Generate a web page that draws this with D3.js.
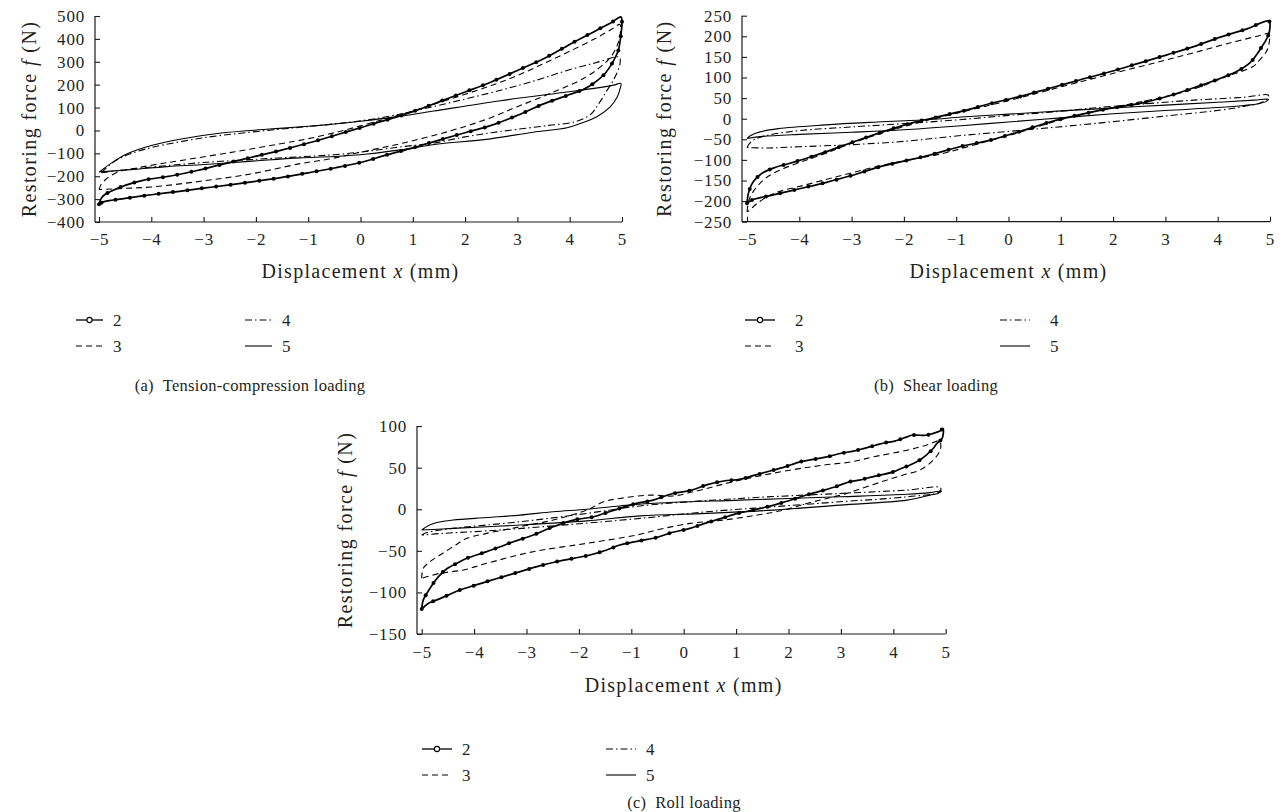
<!DOCTYPE html>
<html><head><meta charset="utf-8">
<script src="https://cdn.jsdelivr.net/npm/d3@7"></script>
<style>
body{margin:0;background:#fff}
svg{display:block}
text{font-family:"Liberation Serif","Times New Roman",serif;fill:#231f20}
</style>
</head><body>
<svg id="chart" width="1285" height="812"></svg>
<script>
// ---------------- DATA ----------------
const xTicks = [-5,-4,-3,-2,-1,0,1,2,3,4,5];
const yTicksA = [500,400,300,200,100,0,-100,-200,-300,-400];
const yTicksB = [250,200,150,100,50,0,-50,-100,-150,-200,-250];
const yTicksC = [100,50,0,-50,-100,-150];
const seriesNames = ["2","3","4","5"];
const captions = ["(a)\u00a0\u00a0Tension-compression loading","(b)\u00a0\u00a0Shear loading","(c)\u00a0\u00a0Roll loading"];
const xTitleParts = ["Displacement ","x"," (mm)"];
const yTitleParts = ["Restoring force ","f"," (N)"];

// Each loop: [displacement x (mm), restoring force f (N)], loading branch then unloading branch
const a2 = [[-5,-322],[-4.96,-298],[-4.9,-282],[-4.78,-267],[-4.5,-240],[-4.14,-217],[-3.63,-199],[-3.12,-175],[-2.65,-148],[-2.1,-118],[-1.53,-87],[-1,-55],[-0.5,-22],[0,12],[0.5,46],[1,82],[1.5,125],[2,168],[2.5,212],[3,262],[3.5,313],[4,376],[4.5,436],[4.8,472],[4.98,496],
 [5,470],[4.98,420],[4.93,350],[4.81,293],[4.68,250],[4.46,206],[4.24,177],[4,157],[3.5,116],[3,66],[2.5,22],[2,-10],[1.5,-42],[1,-76],[0.5,-107],[0,-140],[-0.5,-164],[-1,-185],[-1.5,-205],[-2,-222],[-2.5,-238],[-3,-252],[-3.5,-267],[-4,-281],[-4.5,-297],[-4.9,-311],[-5,-322]];
const a3 = [[-5,-258],[-4.96,-236],[-4.85,-210],[-4.62,-180],[-4.3,-165],[-4,-152],[-3.4,-130],[-2.4,-93],[-1.5,-57],[-1,-36],[-0.5,-10],[0,20],[0.5,52],[1,85],[1.5,122],[2,158],[2.5,196],[3,240],[3.5,292],[4,346],[4.5,403],[4.8,442],[4.96,463],
 [4.97,430],[4.93,385],[4.8,325],[4.6,280],[4.27,228],[3.63,162],[3,104],[2.4,48],[1.7,-3],[0.8,-56],[0,-95],[-0.6,-125],[-1.15,-145],[-2.1,-190],[-3.06,-222],[-4,-247],[-4.6,-254],[-5,-258]];
const a4 = [[-4.95,-185],[-4.88,-168],[-4.7,-135],[-4.4,-102],[-4,-75],[-3,-32],[-2,-5],[-1,17],[0,42],[0.64,66],[1.5,110],[2.7,177],[3.4,222],[3.95,262],[4.5,296],[4.95,320],
 [4.96,290],[4.86,230],[4.7,170],[4.55,115],[4.4,70],[4.1,38],[3.6,22],[3,5],[2.5,-10],[2,-28],[1.4,-55],[0.76,-72],[0.1,-92],[-0.5,-106],[-1.15,-115],[-2,-126],[-3,-140],[-4,-160],[-4.5,-172],[-4.95,-185]];
const a5 = [[-5,-183],[-4.9,-165],[-4.78,-145],[-4.46,-102],[-4,-66],[-3.4,-36],[-2.7,-12],[-1.8,5],[-1,18],[-0.5,28],[0,40],[0.64,58],[1.4,85],[2.68,130],[3.95,168],[4.5,185],[4.84,198],[4.98,205],
 [4.96,180],[4.91,147],[4.78,104],[4.52,60],[4.2,30],[3.95,12],[3.3,-8],[2.36,-40],[1.53,-58],[0.76,-85],[0.13,-103],[-0.5,-114],[-1.15,-120],[-1.78,-129],[-2.42,-140],[-3.06,-150],[-3.69,-158],[-4.33,-170],[-4.97,-181]];

const b2 = [[-5,-205],[-4.98,-185],[-4.94,-168],[-4.88,-153],[-4.72,-133],[-4.5,-120],[-4.18,-108],[-3.86,-96],[-3.48,-80],[-3.09,-62],[-2.71,-45],[-2.26,-26],[-1.81,-9],[-1.43,2],[-1.1,12],[-0.77,22],[-0.4,35],[0.19,53],[0.79,74],[1.36,94],[1.94,114],[2.5,135],[3.03,155],[3.54,175],[4.05,198],[4.56,218],[4.98,237],
 [5,222],[4.96,200],[4.81,168],[4.62,136],[4.37,115],[3.99,95],[3.54,75],[3.03,54],[2.51,37],[1.94,25],[1.37,10],[0.79,-8],[0.19,-32],[-0.35,-52],[-0.93,-68],[-1.5,-88],[-2,-103],[-2.5,-118],[-3,-138],[-3.5,-155],[-4,-170],[-4.5,-185],[-4.88,-196],[-5,-205]];
const b3 = [[-5,-226],[-4.98,-208],[-4.94,-190],[-4.81,-165],[-4.62,-142],[-4.3,-121],[-3.86,-100],[-3.48,-83],[-3.09,-64],[-2.5,-38],[-2,-19],[-1.43,0],[-0.77,20],[0.19,50],[0.79,70],[1.36,89],[1.94,108],[2.5,126],[3.03,143],[3.54,160],[4.18,182],[4.81,202],[4.98,207],
 [4.99,190],[4.94,165],[4.8,142],[4.68,127],[4.18,103],[3.54,72],[2.9,51],[2.26,34],[1.62,17],[0.98,-3],[0.19,-34],[-0.5,-58],[-1.31,-86],[-2,-102],[-2.58,-118],[-3.2,-138],[-3.86,-160],[-4.5,-182],[-4.8,-205],[-4.95,-222],[-5,-226]];
const b4 = [[-5,-70],[-4.95,-60],[-4.85,-50],[-4.6,-40],[-4,-29],[-3,-20],[-2,-12],[-1,-3],[0,8],[1,18],[1.62,26],[2.5,35],[3.54,45],[4.5,52],[4.97,57],
 [4.95,48],[4.81,38],[4.5,30],[4.18,23],[2.9,5],[1.62,-12],[0.35,-27],[-1,-42],[-2,-55],[-3,-63],[-4,-68],[-4.6,-71],[-5,-70]];
const b5 = [[-5,-48],[-4.92,-40],[-4.75,-32],[-4.4,-24],[-3.5,-15],[-2.5,-8],[-1.5,-2],[-0.9,4],[0,11],[1,19],[2,26],[3,33],[4,40],[4.7,45],[4.97,47],
 [4.93,42],[4.8,37],[4.5,32],[4,27],[3,20],[2,12],[1,2],[0,-8],[-0.9,-17],[-2,-27],[-3,-33],[-4,-38],[-4.7,-43],[-5,-48]];

const c2 = [[-5,-120],[-4.97,-109],[-4.9,-101],[-4.8,-91],[-4.68,-81],[-4.55,-73],[-4.33,-65],[-4.14,-59],[-3.76,-51],[-3.5,-45],[-3.25,-39],[-2.87,-31],[-2.49,-21],[-2.1,-13],[-1.72,-9],[-1.47,-4],[-1.22,1],[-0.9,7],[-0.58,11],[-0.26,18],[0.15,23],[0.47,30],[0.76,34],[1.07,36],[1.36,41],[1.65,46],[1.93,51],[2.22,57],[2.48,60],[2.73,63],[2.98,67],[3.24,70],[3.43,73],[3.66,77],[3.84,80],[4.03,82],[4.26,87],[4.35,89],[4.5,89],[4.63,89],[4.75,91],[4.89,94],[4.95,97],
 [4.93,85],[4.83,79],[4.76,73],[4.63,65],[4.5,59],[4.31,53],[4.15,49],[4,45],[3.6,39],[3.35,35],[3.16,33],[2.94,28],[2.68,23],[2.39,18],[2.14,13],[1.88,8],[1.6,3],[1.32,-1],[1.03,-5],[0.72,-11],[0.4,-17],[0.12,-23],[-0.23,-28],[-0.52,-34],[-0.85,-38],[-1.22,-43],[-1.47,-49],[-1.79,-55],[-2.1,-59],[-2.49,-64],[-2.8,-69],[-3.12,-75],[-3.44,-81],[-3.76,-87],[-4.01,-92],[-4.27,-97],[-4.49,-103],[-4.71,-109],[-4.87,-113],[-5,-120]];
const c3 = [[-5,-83],[-4.97,-71],[-4.84,-63],[-4.65,-55],[-4.4,-45],[-4.14,-35],[-3.76,-29],[-3.12,-21],[-2.49,-13],[-1.85,-1],[-1.53,9],[-1.22,13],[-0.64,17],[-0.2,16],[0.18,21],[1.07,35],[2.03,47],[2.66,53],[3.2,57],[3.62,63],[4.26,71],[4.63,77],[4.88,82],
 [4.9,72],[4.76,59],[4.5,47],[4.18,41],[3.87,35],[3.49,27],[3.11,19],[2.73,13],[2.35,7],[1.91,-1],[1.4,-7],[0.76,-13],[0.12,-17],[-0.52,-25],[-0.9,-31],[-1.85,-41],[-2.87,-51],[-3.76,-65],[-4.2,-73],[-4.65,-77],[-5,-83]];
const c4 = [[-5,-31],[-4.9,-28],[-4.4,-23],[-3.12,-15],[-1.85,-5],[-0.83,4],[1.07,13],[2.98,19],[4.26,23],[4.9,26],
 [4.88,21],[4.26,15],[2.98,9],[1.71,3],[0.44,-3],[-0.83,-11],[-2.49,-20],[-3.76,-26],[-4.6,-29],[-5,-31]];
const c5 = [[-5,-25],[-4.85,-19],[-4.71,-16],[-4.4,-13],[-3.76,-10],[-3.12,-7],[-2.49,-3],[-1.85,0],[-1.22,4],[-0.64,7],[1.07,11],[2.98,15],[4.26,18],[4.7,20],[4.92,22],
 [4.85,19],[4.7,17],[4.26,11],[2.98,5],[1.71,-1],[0.44,-5],[-0.83,-8],[-1.85,-14],[-3.12,-19],[-4.4,-23],[-5,-25]];

// ---------------- LAYOUT / STYLE ----------------
const panels = [
  {loops:[a2,a3,a4,a5], yTicks:yTicksA, caption:captions[0],
   x0:99, x1:622, yb:222, yt:16, axisX:95, yTitleX:36, xTitleY:278, tickLabY:23,
   leg:{x:76, col2:245, y:320, dy:26, len:27, gap:10}, cap:{x:250, y:391}},
  {loops:[b2,b3,b4,b5], yTicks:yTicksB, caption:captions[1],
   x0:747, x1:1270, yb:221.7, yt:15.7, axisX:742, yTitleX:671, xTitleY:278, tickLabY:23,
   leg:{x:745, col2:1000, y:320, dy:26, len:30, gap:20}, cap:{x:936, y:391}},
  {loops:[c2,c3,c4,c5], yTicks:yTicksC, caption:captions[2],
   x0:421.7, x1:945.7, yb:634, yt:426.1, axisX:417, yTitleX:352, xTitleY:692, tickLabY:24,
   leg:{x:422, col2:606, y:749, dy:26, len:30, gap:10}, cap:{x:684, y:808}}
];
const styles = [
  {w:1.7, dash:null, dots:true},
  {w:1.1, dash:"6,4", dots:false},
  {w:1.1, dash:"7,3,1.5,3", dots:false},
  {w:1.1, dash:null, dots:false}
];

const svg = d3.select("#chart");
const INK = "#1a1a1a";

panels.forEach(p => {
  const yDom = d3.extent(p.yTicks);
  const x = d3.scaleLinear().domain([xTicks[0], xTicks[xTicks.length-1]]).range([p.x0, p.x1]);
  const y = d3.scaleLinear().domain(yDom).range([p.yb, p.yt]);
  const g = svg.append("g");

  g.append("line").attr("x1",p.axisX).attr("x2",x.range()[1]).attr("y1",y.range()[0]).attr("y2",y.range()[0])
    .attr("stroke",INK).attr("stroke-width",1.2);
  g.append("line").attr("x1",p.axisX).attr("x2",p.axisX).attr("y1",y.range()[0]).attr("y2",y.range()[1])
    .attr("stroke",INK).attr("stroke-width",1.2);

  const xAxis = d3.axisBottom(x).tickValues(xTicks).tickSizeInner(-5).tickSizeOuter(0).tickPadding(p.tickLabY-12);
  const gx = g.append("g").attr("transform",`translate(0,${p.yb})`).call(xAxis);
  const yAxis = d3.axisLeft(y).tickValues(p.yTicks).tickSizeInner(-5).tickSizeOuter(0).tickPadding(10);
  const gy = g.append("g").attr("transform",`translate(${p.axisX},0)`).call(yAxis);
  [gx,gy].forEach(a => {
    a.attr("font-family",null).attr("font-size",null);
    a.select(".domain").remove();
    a.selectAll(".tick line").attr("stroke",INK).attr("stroke-width",1.1);
    a.selectAll(".tick text").attr("fill","#231f20").style("font-size","17px")
      .style("font-family",'"Liberation Serif",serif').style("letter-spacing","0.8px");
  });

  const xt = g.append("text").attr("x",x(0)).attr("y",p.xTitleY).attr("text-anchor","middle")
    .style("font-size","20px").style("letter-spacing","1.3px");
  xTitleParts.forEach((s,i)=> xt.append("tspan").text(s).style("font-style", i===1?"italic":"normal"));
  const yt = g.append("text").attr("transform",`translate(${p.yTitleX},${(p.yb+p.yt)/2}) rotate(-90)`)
    .attr("text-anchor","middle").style("font-size","20px").style("letter-spacing","1.4px");
  yTitleParts.forEach((s,i)=> yt.append("tspan").text(s).style("font-style", i===1?"italic":"normal"));

  const line = d3.line().x(d=>x(d[0])).y(d=>y(d[1])).curve(d3.curveCatmullRom.alpha(0.5));
  [3,2,1,0].forEach(si => {
    const st = styles[si];
    const path = g.append("path").datum(p.loops[si]).attr("d",line)
      .attr("fill","none").attr("stroke","#000").attr("stroke-width",st.w)
      .attr("stroke-linejoin","round");
    if (st.dash) path.attr("stroke-dasharray",st.dash);
    if (st.dots) {
      const node = path.node(), L = node.getTotalLength();
      const pts = d3.range(0, L, 14.5).map(l => node.getPointAtLength(l));
      g.append("g").selectAll("circle").data(pts).join("circle")
        .attr("cx",d=>d.x).attr("cy",d=>d.y).attr("r",2).attr("fill","#000");
    }
  });

  seriesNames.forEach((name,i) => {
    const st = styles[i];
    const lx = i<2 ? p.leg.x : p.leg.col2;
    const ly = p.leg.y + (i%2)*p.leg.dy;
    const ln = g.append("line").attr("x1",lx).attr("x2",lx+p.leg.len).attr("y1",ly).attr("y2",ly)
      .attr("stroke","#000").attr("stroke-width",Math.min(st.w,1.3));
    if (st.dash) ln.attr("stroke-dasharray",st.dash);
    if (st.dots) g.append("circle").attr("cx",lx+p.leg.len/2).attr("cy",ly).attr("r",2.6)
      .attr("fill","#fff").attr("stroke","#000").attr("stroke-width",1.1);
    g.append("text").attr("x",lx+p.leg.len+p.leg.gap).attr("y",ly+6).text(name).style("font-size","17px");
  });

  g.append("text").attr("x",p.cap.x).attr("y",p.cap.y).attr("text-anchor","middle")
    .style("font-size","16.5px").style("letter-spacing","0.3px").text(p.caption);
});
</script>
</body></html>
